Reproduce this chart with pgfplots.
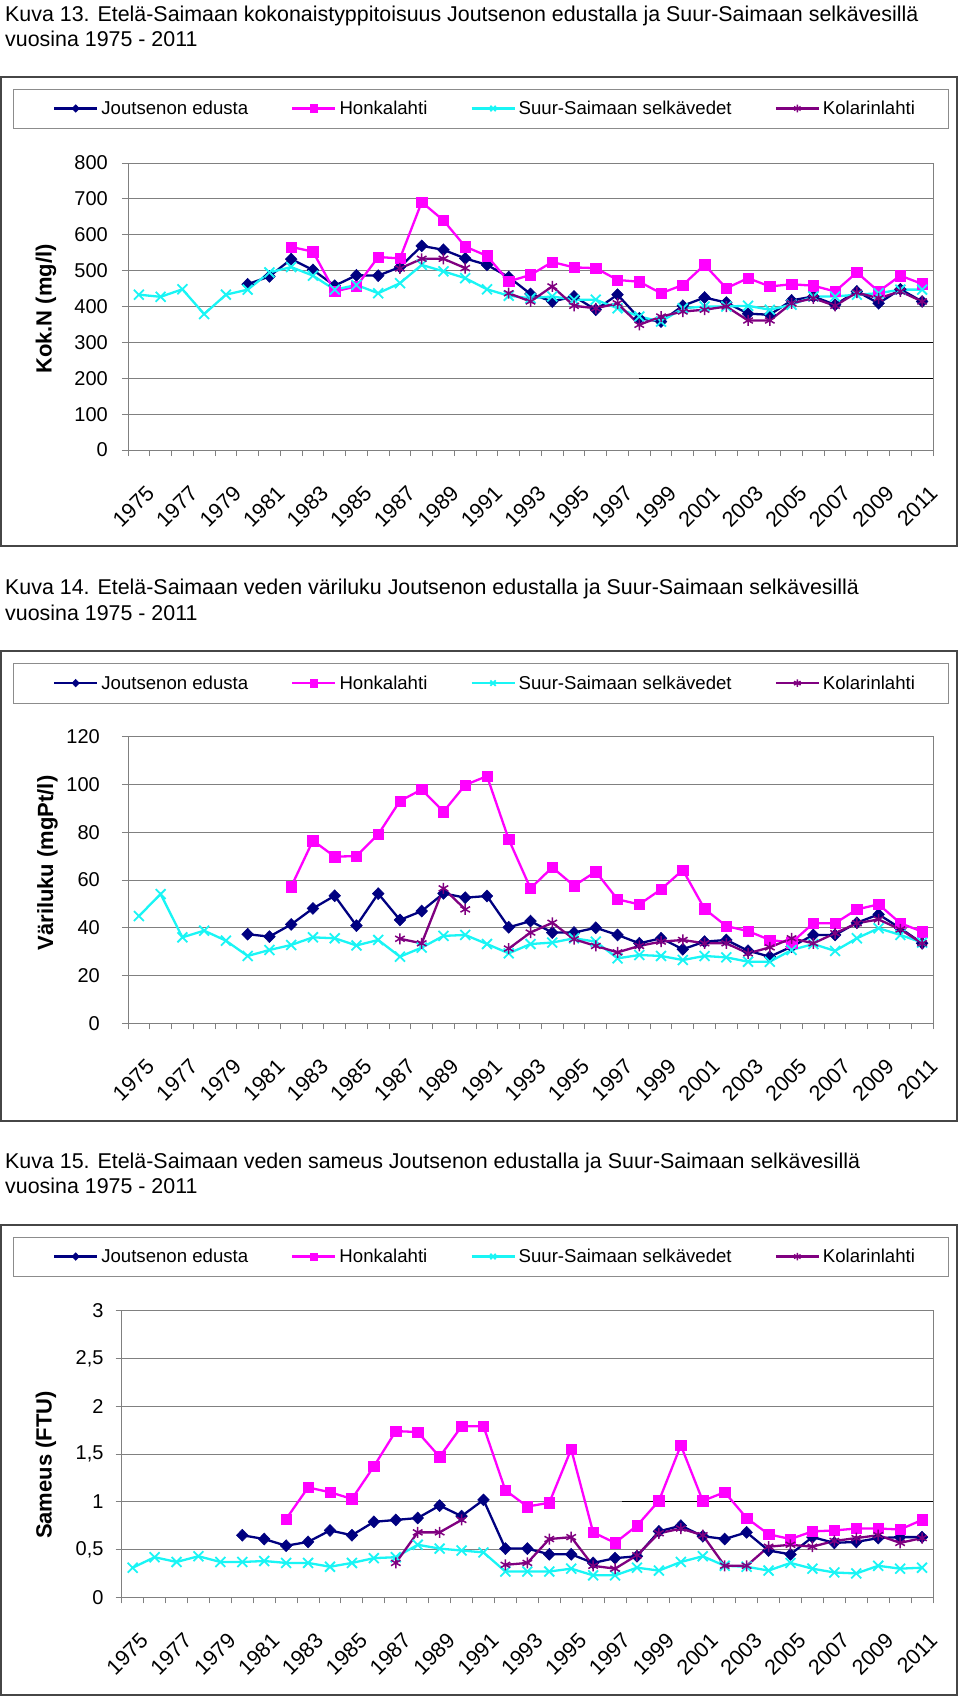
\documentclass[border=0pt]{standalone}
\usepackage{pgfplots}
\usepackage{pgfplotstable}
\pgfplotsset{compat=1.18}
\usepackage{fontspec}
\setmainfont{Liberation Sans}
\definecolor{cnavy}{RGB}{0,0,128}
\definecolor{cmag}{RGB}{255,0,255}
\definecolor{ccyan}{RGB}{25,245,245}
\definecolor{cpurp}{RGB}{128,0,128}
\definecolor{gridgray}{RGB}{128,128,128}
\definecolor{axgray}{RGB}{128,128,128}
\definecolor{boxgray}{RGB}{70,70,70}
\definecolor{leggray}{RGB}{140,140,140}
\newcommand{\fs}{\fontsize{20bp}{24bp}\selectfont}
\newcommand{\xfs}{\fontsize{21.5bp}{25bp}\selectfont}
\newcommand{\cfs}{\fontsize{21.4bp}{25bp}\selectfont}
\newcommand{\lfs}{\fontsize{18.6bp}{22bp}\selectfont}
\newcommand{\yfs}{\fontsize{22bp}{26bp}\selectfont}

\pgfplotstableread{
i J H S K
0 nan nan 433 nan
1 nan nan 427 nan
2 nan nan 448 nan
3 nan nan 379 nan
4 nan nan 433 nan
5 462 nan 447 nan
6 484 nan 495 nan
7 532 566 510 nan
8 502 553 486 nan
9 458 442 447 nan
10 487 456 460 nan
11 486 538 437 nan
12 510 534 465 506
13 569 691 516 533
14 558 640 498 533
15 534 567 479 507
16 516 541 448 nan
17 482 470 430 437
18 435 488 423 414
19 414 524 428 456
20 428 509 419 402
21 391 507 419 395
22 433 474 395 409
23 367 469 372 349
24 358 437 358 372
25 402 460 395 386
26 425 516 400 391
27 411 451 400 400
28 380 479 402 361
29 377 456 391 361
30 417 462 405 409
31 428 458 428 423
32 405 442 428 402
33 442 495 433 439
34 409 442 437 423
35 448 486 447 442
36 414 463 447 414
}\tabN

\pgfplotstableread{
i J H S K
0 nan nan 44.9 nan
1 nan nan 54.1 nan
2 nan nan 36.0 nan
3 nan nan 38.8 nan
4 nan nan 34.6 nan
5 37.3 nan 28.2 nan
6 36.3 nan 30.7 nan
7 41.4 57.2 32.8 nan
8 48.1 76.5 36.0 nan
9 53.4 69.8 35.6 nan
10 40.9 70.0 32.6 nan
11 54.3 79.1 34.9 nan
12 43.3 93.1 27.9 35.4
13 47.0 97.9 31.7 33.5
14 54.4 88.6 36.6 56.5
15 52.6 99.8 37.0 47.7
16 53.3 103.5 33.2 nan
17 40.2 77.0 29.3 31.3
18 42.8 56.5 33.2 38.0
19 38.0 65.3 33.8 42.1
20 38.0 57.6 35.6 35.2
21 40.0 63.5 34.2 32.4
22 37.0 51.9 27.2 29.7
23 33.5 49.8 28.6 32.4
24 35.6 56.1 28.2 34.2
25 31.0 64.2 26.5 34.9
26 34.2 47.9 28.2 33.5
27 34.9 40.7 27.6 33.5
28 30.4 38.6 25.8 29.3
29 27.9 34.9 25.8 31.8
30 32.1 33.8 30.7 35.6
31 37.0 41.9 33.2 33.5
32 37.0 41.9 30.3 37.7
33 42.1 47.7 35.6 41.9
34 45.6 49.8 39.8 43.5
35 39.8 41.9 37.0 39.3
36 33.5 38.4 33.8 33.5
}\tabV

\pgfplotstableread{
i J H S K
0 nan nan 0.31 nan
1 nan nan 0.42 nan
2 nan nan 0.37 nan
3 nan nan 0.43 nan
4 nan nan 0.37 nan
5 0.65 nan 0.37 nan
6 0.61 nan 0.38 nan
7 0.54 0.82 0.36 nan
8 0.58 1.15 0.36 nan
9 0.70 1.10 0.32 nan
10 0.65 1.03 0.36 nan
11 0.79 1.37 0.41 nan
12 0.81 1.74 0.42 0.36
13 0.83 1.73 0.55 0.68
14 0.96 1.47 0.51 0.68
15 0.85 1.79 0.49 0.81
16 1.02 1.79 0.47 nan
17 0.51 1.12 0.27 0.34
18 0.51 0.95 0.27 0.36
19 0.45 0.99 0.27 0.61
20 0.45 1.55 0.30 0.63
21 0.36 0.68 0.23 0.33
22 0.41 0.57 0.23 0.30
23 0.43 0.75 0.31 0.44
24 0.69 1.01 0.28 0.67
25 0.75 1.59 0.37 0.72
26 0.64 1.01 0.43 0.65
27 0.61 1.10 0.33 0.33
28 0.68 0.83 0.32 0.33
29 0.49 0.66 0.28 0.53
30 0.45 0.61 0.36 0.55
31 0.63 0.69 0.30 0.53
32 0.57 0.70 0.26 0.59
33 0.58 0.72 0.25 0.62
34 0.62 0.72 0.33 0.65
35 0.63 0.71 0.30 0.57
36 0.63 0.81 0.31 0.62
}\tabT

\pgfplotsset{
 excel/.style={
  scale only axis, anchor=south west,
  xmin=-0.5, xmax=36.5, ymin=0,
  axis line style={draw=axgray, line width=1bp},
  tick pos=left, tick align=outside,
  major tick length=6bp, minor tick length=6bp,
  every major x tick/.append style={draw=none},
  every minor x tick/.append style={draw=axgray, line width=1bp},
  every major y tick/.append style={draw=axgray, line width=1bp},
  xtick={0,2,...,36},
  minor xtick={-0.5,0.5,...,36.5},
  xticklabels={1975,1977,1979,1981,1983,1985,1987,1989,1991,1993,1995,1997,1999,2001,2003,2005,2007,2009,2011},
  xticklabel style={xshift=6bp, yshift=-28bp, rotate=45, anchor=north east, inner sep=0pt, font=\xfs},
  yticklabel style={inner sep=0pt, font=\fs},
  /pgf/number format/assume math mode=true,
  ymajorgrids, major grid style={draw=gridgray, line width=1bp},
  unbounded coords=jump,
  legend columns=4,
  legend style={draw=none, fill=none, font=\lfs, anchor=center,
     nodes={inner sep=1bp},
     /tikz/every odd column/.append style={column sep=2bp},
     /tikz/every even column/.append style={column sep=42bp}},
  legend image code/.code={\draw[mark repeat=2, mark phase=2, #1] plot coordinates {(0bp,0bp) (21.5bp,0bp) (43bp,0bp)};},
  legend image post style={mark size=3.8bp},
 },
 sJ/.style={draw=cnavy, line width=2.3bp, mark=diamond*, mark size=6bp, mark options={fill=cnavy, draw=cnavy, solid, line width=0.5bp, xscale=1.3}},
 sH/.style={draw=cmag, line width=2.3bp, mark=square*, mark size=5.2bp, mark options={fill=cmag, draw=cmag, solid, line width=0.5bp}},
 sS/.style={draw=ccyan, line width=2.3bp, mark=x, mark size=7bp, mark options={draw=ccyan, solid, line width=1.8bp}},
 sK/.style={draw=cpurp, line width=2.3bp, mark=asterisk, mark size=5.5bp, mark options={draw=cpurp, solid, line width=1.5bp}},
}

\begin{document}
\begin{tikzpicture}
\useasboundingbox (0,0) rectangle (960bp,-1699bp);
\fill[white] (0,0) rectangle (960bp,-1699bp);

% ---------- Panel 1 ----------
\node[anchor=base west, inner sep=0pt, font=\cfs] at (5bp,-21bp) {Kuva 13. Etelä-Saimaan kokonaistyppitoisuus Joutsenon edustalla ja Suur-Saimaan selkävesillä};
\node[anchor=base west, inner sep=0pt, font=\cfs] at (5bp,-46bp) {vuosina 1975 - 2011};
\draw[boxgray, line width=1.5bp] (1bp,-77bp) rectangle (957bp,-546bp);
\draw[leggray, line width=1bp] (13.5bp,-89bp) rectangle (948bp,-128bp);
\node[rotate=90, font=\bfseries\yfs] at (46bp,-309bp) {Kok.N (mg/l)};
\begin{axis}[excel, at={(128bp,-450bp)}, width=805bp, height=287bp,
  ymax=800, ytick={0,100,...,800},
  yticklabel style={xshift=-14bp},
  legend style={at={(axis description cs:0.4429,1.19)}}]
\draw[black, line width=1bp] (axis cs:21.19,300) -- (axis cs:36.5,300);
\draw[black, line width=1bp] (axis cs:22.99,200) -- (axis cs:36.5,200);
\addplot[sJ] table[x=i, y=J] {\tabN};
\addplot[sH] table[x=i, y=H] {\tabN};
\addplot[sS] table[x=i, y=S] {\tabN};
\addplot[sK] table[x=i, y=K] {\tabN};
\legend{Joutsenon edusta, Honkalahti, Suur-Saimaan selkävedet, Kolarinlahti}
\end{axis}

% ---------- Panel 2 ----------
\node[anchor=base west, inner sep=0pt, font=\cfs] at (5bp,-594bp) {Kuva 14. Etelä-Saimaan veden väriluku Joutsenon edustalla ja Suur-Saimaan selkävesillä};
\node[anchor=base west, inner sep=0pt, font=\cfs] at (5bp,-620bp) {vuosina 1975 - 2011};
\draw[boxgray, line width=1.5bp] (1bp,-651bp) rectangle (957bp,-1121bp);
\draw[leggray, line width=1bp] (13.5bp,-663bp) rectangle (948bp,-703bp);
\node[rotate=90, font=\bfseries\yfs] at (47.5bp,-863bp) {Väriluku (mgPt/l)};
\begin{axis}[excel, at={(128bp,-1023.3bp)}, width=805bp, height=286.6bp,
  ymax=120, ytick={0,20,...,120},
  yticklabel style={xshift=-22bp},
  legend style={at={(axis description cs:0.4429,1.187)}}]
\addplot[sJ] table[x=i, y=J] {\tabV};
\addplot[sH] table[x=i, y=H] {\tabV};
\addplot[sS] table[x=i, y=S] {\tabV};
\addplot[sK] table[x=i, y=K] {\tabV};
\legend{Joutsenon edusta, Honkalahti, Suur-Saimaan selkävedet, Kolarinlahti}
\end{axis}

% ---------- Panel 3 ----------
\node[anchor=base west, inner sep=0pt, font=\cfs] at (5bp,-1168bp) {Kuva 15. Etelä-Saimaan veden sameus Joutsenon edustalla ja Suur-Saimaan selkävesillä};
\node[anchor=base west, inner sep=0pt, font=\cfs] at (5bp,-1193bp) {vuosina 1975 - 2011};
\draw[boxgray, line width=1.5bp] (1bp,-1225bp) rectangle (957bp,-1695bp);
\draw[leggray, line width=1bp] (13.5bp,-1237bp) rectangle (948bp,-1276bp);
\node[rotate=90, font=\bfseries\yfs] at (46bp,-1465bp) {Sameus (FTU)};
\begin{axis}[excel, at={(121.7bp,-1597.3bp)}, width=811.3bp, height=286.6bp,
  ymax=3, ytick={0,0.5,1,1.5,2,2.5,3},
  yticklabels={0,{0,5},1,{1,5},2,{2,5},3},
  yticklabel style={xshift=-12bp},
  legend style={at={(axis description cs:0.4472,1.189)}}]
\draw[black, line width=1bp] (axis cs:22.31,1) -- (axis cs:36.5,1);
\addplot[sJ] table[x=i, y=J] {\tabT};
\addplot[sH] table[x=i, y=H] {\tabT};
\addplot[sS] table[x=i, y=S] {\tabT};
\addplot[sK] table[x=i, y=K] {\tabT};
\legend{Joutsenon edusta, Honkalahti, Suur-Saimaan selkävedet, Kolarinlahti}
\end{axis}
\end{tikzpicture}
\end{document}
